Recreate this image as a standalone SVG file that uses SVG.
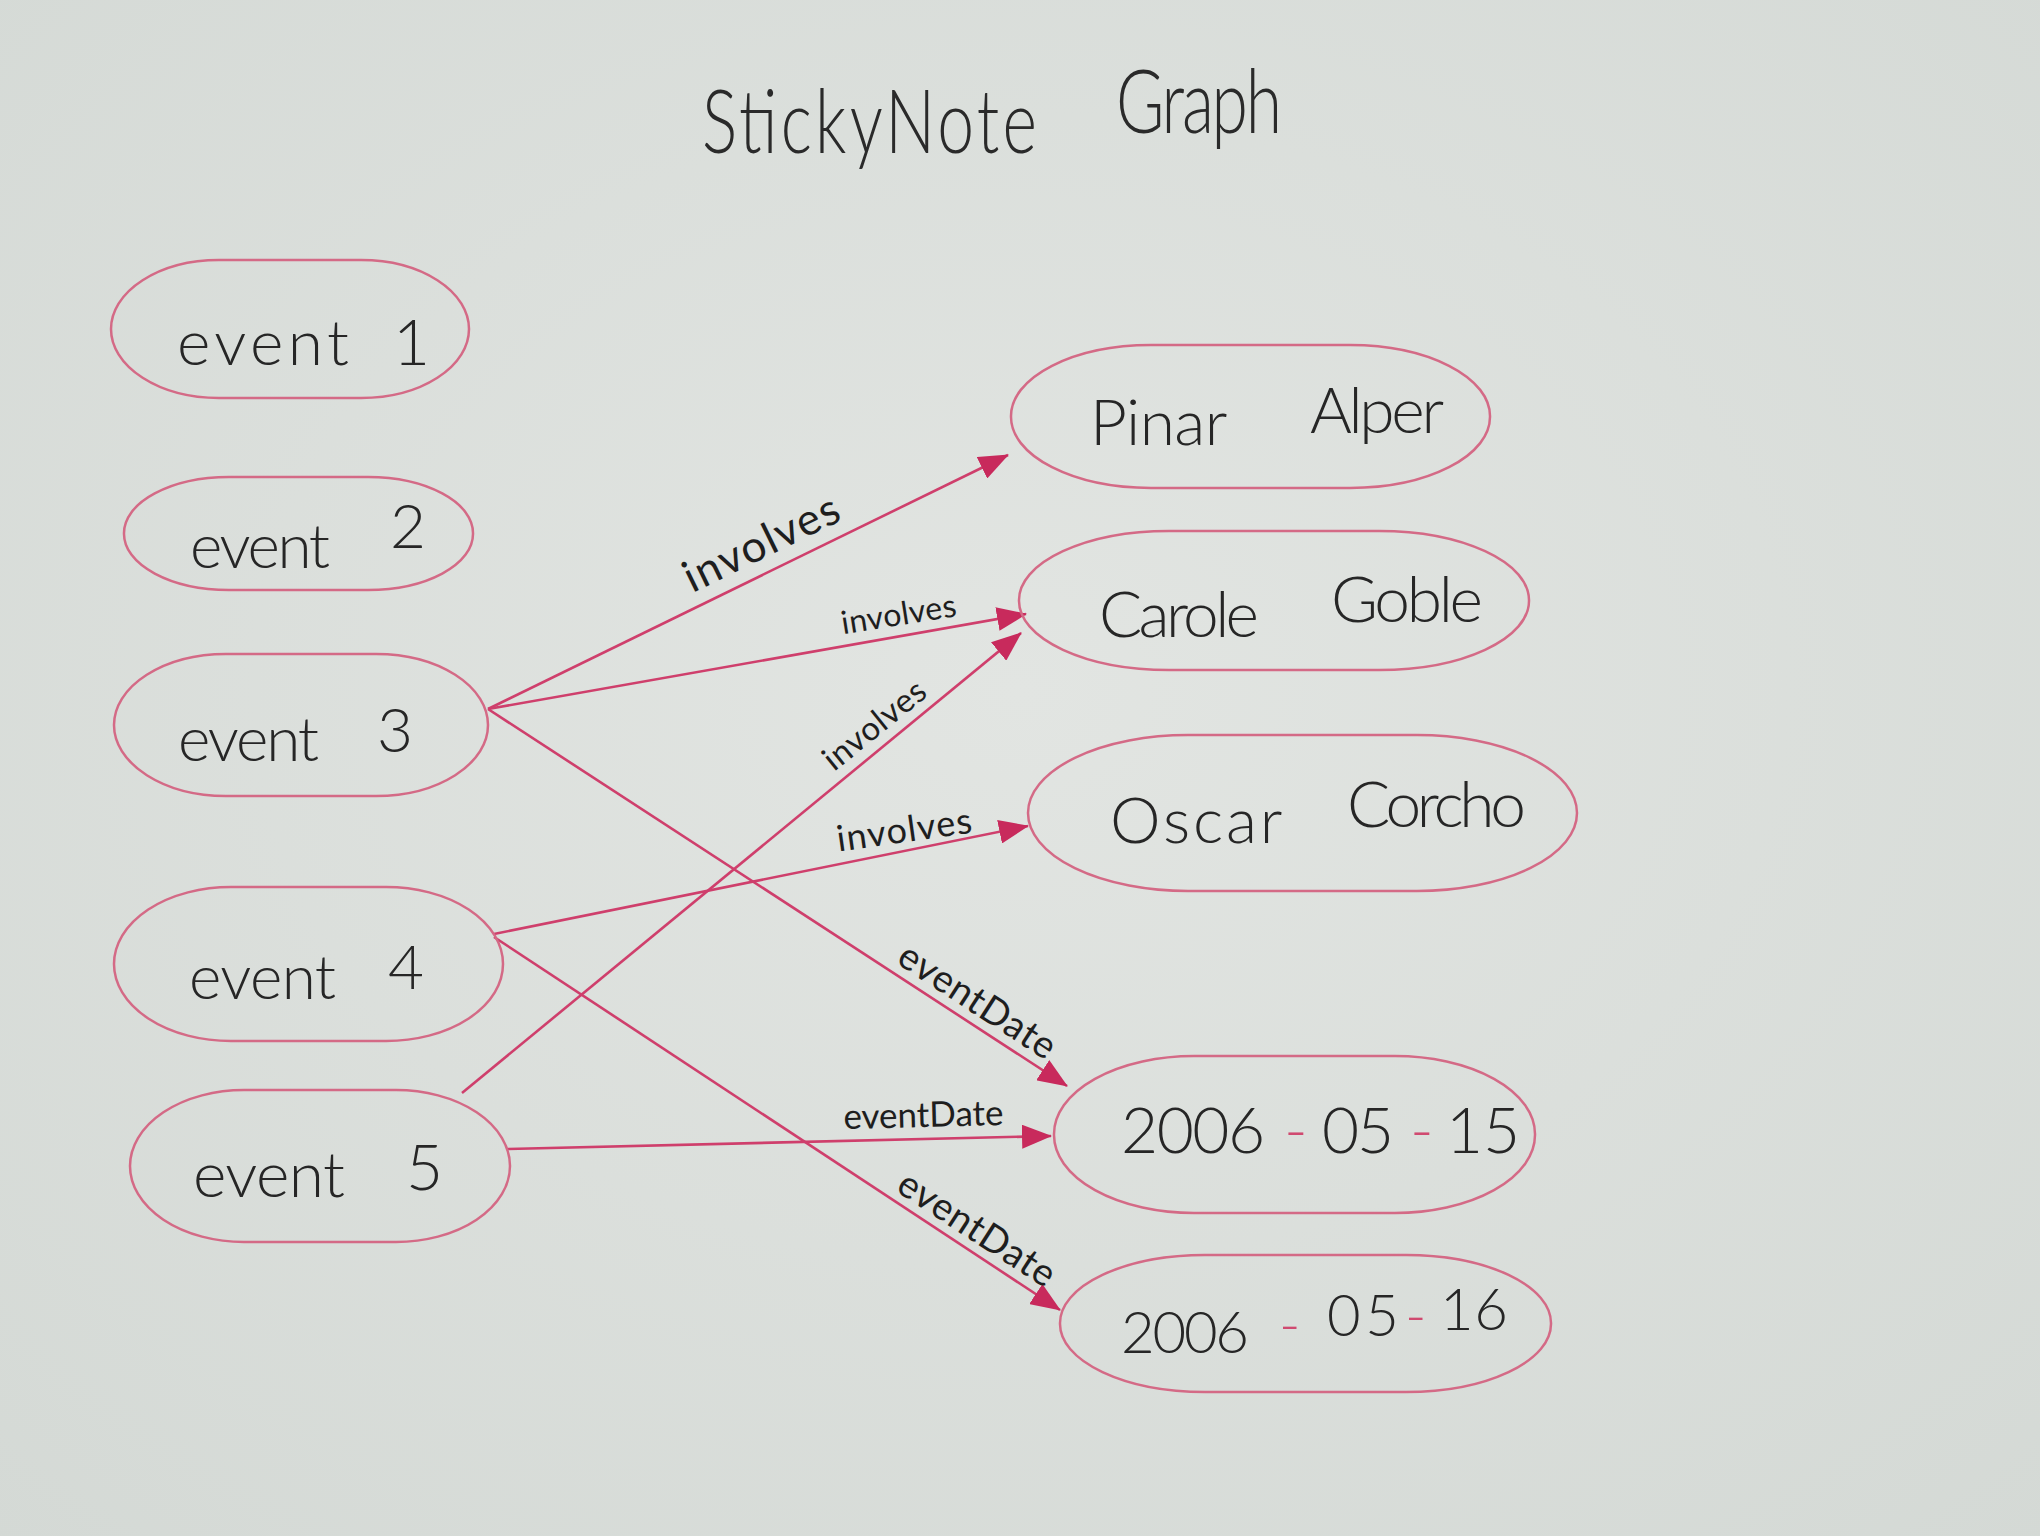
<svg xmlns="http://www.w3.org/2000/svg" width="2040" height="1536" viewBox="0 0 2040 1536">
<defs>
<radialGradient id="paper" cx="50%" cy="45%" r="75%">
<stop offset="0" stop-color="#e2e5e2"/>
<stop offset="1" stop-color="#d4d9d5"/>
</radialGradient>
<marker id="arrow" markerUnits="userSpaceOnUse" viewBox="0 0 30 24" refX="29" refY="12" markerWidth="30" markerHeight="24" orient="auto">
<path d="M0,0 L30,12 L0,24 Z" fill="#c82a5c"/>
</marker>
<style>
.node rect { fill: none; stroke: #d46a86; stroke-width: 2.5; }
.lbl { font-family: Lato, "Liberation Sans", sans-serif; font-weight: 300; fill: #262626; }
.edge { stroke: #cf3f6c; stroke-width: 2.6; fill: none; marker-end: url(#arrow); }
.elbl { font-family: Lato, "Liberation Sans", sans-serif; font-weight: 400; fill: #1e1e1e; text-anchor: middle; }
.dash { fill: #d04a70; }
.title { font-family: Lato, "Liberation Sans", sans-serif; font-weight: 300; fill: #2a2a2a; }
</style>
</defs>
<rect width="2040" height="1536" fill="url(#paper)"/>

<g id="title" transform="translate(0,153) scale(1,1.35)">
<text class="title" font-size="66"><tspan x="702" y="0" textLength="335" lengthAdjust="spacing">StickyNote</tspan> <tspan x="1116" y="-15" textLength="166" lengthAdjust="spacing">Graph</tspan></text>
</g>

<g id="connectors">
<line class="edge" x1="488" y1="709" x2="1008" y2="455"/>
<line class="edge" x1="488" y1="709" x2="1026" y2="614"/>
<line class="edge" x1="462" y1="1093" x2="1021" y2="633"/>
<line class="edge" x1="494" y1="934" x2="1028" y2="826"/>
<line class="edge" x1="488" y1="709" x2="1067" y2="1086"/>
<line class="edge" x1="507" y1="1149" x2="1051" y2="1136"/>
<line class="edge" x1="494" y1="937" x2="1060" y2="1310"/>
<g transform="translate(774,569) rotate(-26)"><text class="elbl" y="-14" font-size="44" textLength="168" lengthAdjust="spacing">involves</text></g>
<g transform="translate(902,636) rotate(-9)"><text class="elbl" y="-11" font-size="32" textLength="116" lengthAdjust="spacing">involves</text></g>
<g transform="translate(889,743) rotate(-39)"><text class="elbl" y="-12" font-size="33" textLength="122" lengthAdjust="spacing">involves</text></g>
<g transform="translate(907,850) rotate(-8)"><text class="elbl" y="-8" font-size="36" textLength="136" lengthAdjust="spacing">involves</text></g>
<g transform="translate(965,1020) rotate(33)"><text class="elbl" y="-10" font-size="38" textLength="180" lengthAdjust="spacing">eventDate</text></g>
<g transform="translate(924,1139) rotate(-1.5)"><text class="elbl" y="-12" font-size="35" textLength="160" lengthAdjust="spacing">eventDate</text></g>
<g transform="translate(965,1247) rotate(33)"><text class="elbl" y="-9" font-size="38" textLength="180" lengthAdjust="spacing">eventDate</text></g>
</g>

<g id="event1" class="node">
<rect x="111" y="260" width="358" height="138" rx="108" ry="69"/>
<text class="lbl" font-size="64"><tspan x="177" y="365" textLength="172" lengthAdjust="spacing">event</tspan> <tspan x="393" y="365">1</tspan></text>
</g>
<g id="event2" class="node">
<rect x="124" y="477" width="349" height="113" rx="105" ry="56"/>
<text class="lbl" font-size="62"><tspan x="190" y="568" textLength="140" lengthAdjust="spacing">event</tspan> <tspan x="390" y="548">2</tspan></text>
</g>
<g id="event3" class="node">
<rect x="114" y="654" width="374" height="142" rx="112" ry="71"/>
<text class="lbl" font-size="62"><tspan x="178" y="761" textLength="141" lengthAdjust="spacing">event</tspan> <tspan x="377" y="752">3</tspan></text>
</g>
<g id="event4" class="node">
<rect x="114" y="887" width="389" height="154" rx="117" ry="77"/>
<text class="lbl" font-size="62"><tspan x="189" y="999" textLength="147" lengthAdjust="spacing">event</tspan> <tspan x="388" y="989">4</tspan></text>
</g>
<g id="event5" class="node">
<rect x="130" y="1090" width="380" height="152" rx="114" ry="76"/>
<text class="lbl" font-size="64"><tspan x="193" y="1197" textLength="152" lengthAdjust="spacing">event</tspan> <tspan x="406" y="1190">5</tspan></text>
</g>

<g id="pinar" class="node">
<rect x="1011" y="345" width="479" height="143" rx="140" ry="71"/>
<text class="lbl" font-size="64"><tspan x="1090" y="445" textLength="136" lengthAdjust="spacing">Pinar</tspan> <tspan x="1310" y="433" textLength="134" lengthAdjust="spacing">Alper</tspan></text>
</g>
<g id="carole" class="node">
<rect x="1019" y="531" width="510" height="139" rx="150" ry="69"/>
<text class="lbl" font-size="64"><tspan x="1099" y="637" textLength="160" lengthAdjust="spacing">Carole</tspan> <tspan x="1331" y="622" textLength="152" lengthAdjust="spacing">Goble</tspan></text>
</g>
<g id="oscar" class="node">
<rect x="1028" y="735" width="549" height="156" rx="160" ry="78"/>
<text class="lbl" font-size="64"><tspan x="1110" y="843" textLength="171" lengthAdjust="spacing">Oscar</tspan> <tspan x="1347" y="827" textLength="179" lengthAdjust="spacing">Corcho</tspan></text>
</g>
<g id="date15" class="node">
<rect x="1054" y="1056" width="481" height="157" rx="140" ry="78"/>
<text class="lbl" font-size="64"><tspan x="1121" y="1153" textLength="144" lengthAdjust="spacing">2006</tspan><tspan class="dash" x="1284" y="1153">-</tspan><tspan x="1322" y="1153" textLength="72" lengthAdjust="spacing">05</tspan><tspan class="dash" x="1410" y="1153">-</tspan><tspan x="1446" y="1153" textLength="74" lengthAdjust="spacing">15</tspan></text>
</g>
<g id="date16" class="node">
<rect x="1060" y="1255" width="491" height="137" rx="145" ry="68"/>
<text class="lbl" font-size="58"><tspan x="1121" y="1353" textLength="128" lengthAdjust="spacing">2006</tspan><tspan class="dash" x="1279" y="1345">-</tspan><tspan x="1327" y="1336" textLength="72" lengthAdjust="spacing">05</tspan><tspan class="dash" x="1405" y="1336">-</tspan><tspan x="1440" y="1330" textLength="68" lengthAdjust="spacing">16</tspan></text>
</g>
</svg>
